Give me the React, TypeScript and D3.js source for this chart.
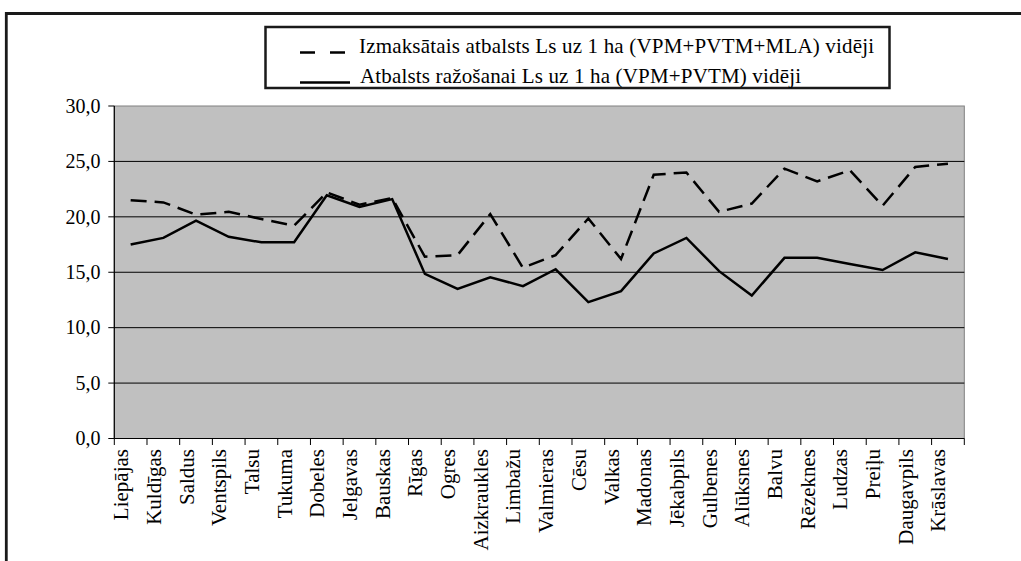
import React from "react";
import * as d3 from "d3";

const categories = [
  "Liepājas", "Kuldīgas", "Saldus", "Ventspils", "Talsu", "Tukuma", "Dobeles",
  "Jelgavas", "Bauskas", "Rīgas", "Ogres", "Aizkraukles", "Limbažu", "Valmieras",
  "Cēsu", "Valkas", "Madonas", "Jēkabpils", "Gulbenes", "Alūksnes", "Balvu",
  "Rēzeknes", "Ludzas", "Preiļu", "Daugavpils", "Krāslavas",
];

const paidSupport = [
  21.5, 21.3, 20.2, 20.45, 19.8, 19.2, 22.2, 21.1, 21.7, 16.4, 16.55, 20.25, 15.4,
  16.55, 19.85, 16.2, 23.8, 24.0, 20.45, 21.2, 24.35, 23.2, 24.2, 21.0, 24.5, 24.8,
];

const productionSupport = [
  17.5, 18.1, 19.65, 18.2, 17.7, 17.7, 21.95, 20.9, 21.6, 14.85, 13.5, 14.55, 13.75,
  15.27, 12.3, 13.3, 16.7, 18.1, 15.1, 12.9, 16.3, 16.3, 15.75, 15.2, 16.8, 16.2,
];

const yTicks = [0, 5, 10, 15, 20, 25, 30];
const yTickLabels = ["0,0", "5,0", "10,0", "15,0", "20,0", "25,0", "30,0"];

const legendLabels = [
  "Izmaksātais atbalsts Ls uz 1 ha (VPM+PVTM+MLA) vidēji",
  "Atbalsts ražošanai Ls uz 1 ha (VPM+PVTM) vidēji",
];

const FONT = '"Liberation Serif", "Times New Roman", "DejaVu Serif", serif';

export default function App() {
  const W = 1021;
  const H = 561;
  const left = 114.3;
  const right = 964.3;
  const top = 106;
  const bottom = 438.5;

  const x = d3.scaleBand<string>().domain(categories).range([left, right]).padding(0);
  const y = d3.scaleLinear().domain([0, 30]).range([bottom, top]);
  const cx = (c: string) => (x(c) as number) + x.bandwidth() / 2;

  const line = d3
    .line<number>()
    .x((_, i) => cx(categories[i]))
    .y((d) => y(d));

  const tickPositions = [...categories.map((c) => x(c) as number), right];
  const ts = { fontFamily: FONT };

  return (
    <svg
      width={W}
      height={H}
      style={{ position: "absolute", left: 0, top: 0, background: "#fff", fontFamily: FONT }}
    >
      {/* outer frame */}
      <line x1={6.3} x2={W} y1={13.5} y2={13.5} stroke="#1a1a1a" strokeWidth={2.8} />
      <line x1={6.3} x2={6.3} y1={12} y2={H} stroke="#1a1a1a" strokeWidth={2.8} />

      {/* legend */}
      <rect x={265.5} y={27} width={624} height={61} fill="#fff" stroke="#1a1a1a" strokeWidth={2.5} />
      <line x1={300} x2={349} y1={52.5} y2={52.5} stroke="#000" strokeWidth={2.5} strokeDasharray="15,15" />
      <line x1={300} x2={350} y1={82.5} y2={82.5} stroke="#000" strokeWidth={2.5} />
      <text style={ts} x={359} y={53} fontSize={21} fill="#000" textLength={515} lengthAdjust="spacing">
        {legendLabels[0]}
      </text>
      <text style={ts} x={360} y={83} fontSize={21} fill="#000" textLength={441} lengthAdjust="spacing">
        {legendLabels[1]}
      </text>

      {/* plot area */}
      <rect x={left} y={top} width={right - left} height={bottom - top} fill="#c0c0c0" stroke="#808080" strokeWidth={1} />
      {yTicks.filter((t) => t > 0 && t < 30).map((t) => (
        <line key={t} x1={left} x2={right} y1={y(t)} y2={y(t)} stroke="#000" strokeWidth={1} />
      ))}

      {/* y axis */}
      <line x1={left} x2={left} y1={top} y2={bottom} stroke="#000" strokeWidth={1.2} />
      {yTicks.map((t, i) => (
        <g key={t}>
          <line x1={left - 6} x2={left} y1={y(t)} y2={y(t)} stroke="#000" strokeWidth={1} />
          <text style={ts} x={100.5} y={y(t)} dy="0.34em" textAnchor="end" fontSize={20} fill="#000">
            {yTickLabels[i]}
          </text>
        </g>
      ))}

      {/* x axis */}
      <line x1={left} x2={right} y1={bottom} y2={bottom} stroke="#000" strokeWidth={1.2} />
      {tickPositions.map((p, i) => (
        <line key={i} x1={p} x2={p} y1={bottom} y2={bottom + 6.5} stroke="#000" strokeWidth={1} />
      ))}
      {categories.map((c) => (
        <text
          key={c}
          style={ts}
          transform={`translate(${cx(c) - 2.5},449) rotate(-90)`}
          textAnchor="end"
          fontSize={21}
          fill="#000"
        >
          {c}
        </text>
      ))}

      {/* series */}
      <path d={line(paidSupport) || ""} fill="none" stroke="#000" strokeWidth={2.5} strokeDasharray="16,8" strokeLinejoin="miter" />
      <path d={line(productionSupport) || ""} fill="none" stroke="#000" strokeWidth={2.5} strokeLinejoin="miter" />
    </svg>
  );
}
